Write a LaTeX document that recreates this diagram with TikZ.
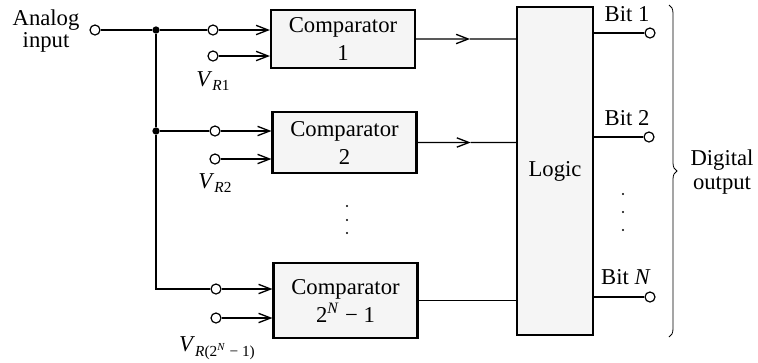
\documentclass[tikz,border=0pt]{standalone}
\usepackage{fontspec}
\setmainfont{Liberation Serif}
\usetikzlibrary{arrows.meta,decorations.pathreplacing,calc}
\newcommand{\vsub}[1]{\textit{V}\raisebox{-0.45ex}{\fontsize{11.5}{12}\selectfont #1}}
\begin{document}
\begin{tikzpicture}[x=0.75pt,y=-0.75pt, line width=1.1pt,
  every node/.style={font=\fontsize{17}{19}\selectfont},
  term/.style={circle,draw,fill=white,inner sep=0pt,minimum size=7.5pt,line width=0.9pt},
  junc/.style={circle,fill=black,inner sep=0pt,minimum size=5.5pt},
  comp/.style={draw,line width=1.6pt,fill=black!4,align=center,inner sep=0pt,minimum width=108pt,
    font=\fontsize{17}{21}\selectfont},
  arr/.style={-{Straight Barb[length=9pt,width=7pt,line width=1pt]}},
  dot/.style={circle,fill=black,inner sep=0pt,minimum size=1.8pt},
]
\useasboundingbox (0,0) rectangle (758,362);

% input side
\node[align=center,font=\fontsize{17}{16}\selectfont] (alab) at (46,31) {Analog\\input};
\node[term] (ain) at (95,30) {};
\node[junc] (j1) at (156,30) {};
\node[junc] (j2) at (156,131) {};
\coordinate (corner) at (156,289);

% comparators
\node[comp,minimum height=43.5pt] (c1) at (343,39) {Comparator\\1};
\node[comp,minimum height=45.75pt] (c2) at (344.5,142.5) {Comparator\\2};
\node[comp,minimum height=56.25pt] (c3) at (345.5,300.5) {Comparator\\2\textsuperscript{\textit{N}} − 1};

% terminals
\node[term] (t1a) at (213,30) {};
\node[term] (t1b) at (213,56) {};
\node[term] (t2a) at (215,131) {};
\node[term] (t2b) at (215,159) {};
\node[term] (t3a) at (216,289) {};
\node[term] (t3b) at (216,318) {};

\node (v1) at (213,81) {\vsub{\textit{R}1}};
\node (v2) at (215,183) {\vsub{\textit{R}2}};
\node (v3) at (217,348) {\vsub{\textit{R}(2\textsuperscript{\textit{N}} − 1)}};

% wiring
\draw (ain) -- (j1) -- (t1a);
\draw (j1) -- (j2) -- (t2a);
\draw (j2) -- (corner) -- (t3a);
\foreach \t/\c in {t1a/c1,t1b/c1,t2a/c2,t2b/c2,t3a/c3,t3b/c3}{
  \draw[arr] (\t) -- (\t -| \c.west);
}

% logic
\node[draw,line width=1.6pt,fill=black!4,minimum width=57pt,minimum height=246pt,inner sep=0pt] (logic) at (555,171) {Logic};

\coordinate (m1) at ($(c1.east)!0.54!(c1.east -| logic.west)$);
\coordinate (m2) at ($(c2.east)!0.54!(c2.east -| logic.west)$);
\draw[arr] (c1.east) -- (m1);
\draw (m1) -- (c1.east -| logic.west);
\draw[arr] (c2.east) -- (m2);
\draw (m2) -- (c2.east -| logic.west);
\draw (c3.east) -- (c3.east -| logic.west);

% vertical dots
\node[dot] at (347,206) {};
\node[dot] at (347,220) {};
\node[dot] at (347,233) {};
\node[dot] at (623,194) {};
\node[dot] at (623,212) {};
\node[dot] at (623,230) {};

% outputs
\node[term] (o1) at (650,33) {};
\node[term] (o2) at (649,137) {};
\node[term] (oN) at (650,297) {};
\draw (o1 -| logic.east) -- (o1);
\draw (o2 -| logic.east) -- (o2);
\draw (oN -| logic.east) -- (oN);
\node (b1) at (627,14) {Bit 1};
\node (b2) at (627,118) {Bit 2};
\node (bN) at (626,277) {Bit \textit{N}};

% brace
\draw[line width=0.6pt,decorate,decoration={brace,amplitude=6pt}] (669,5) -- (669,337);
\node[align=center,font=\fontsize{17}{18.5}\selectfont] (dout) at (722,172) {Digital\\output};
\end{tikzpicture}
\end{document}
